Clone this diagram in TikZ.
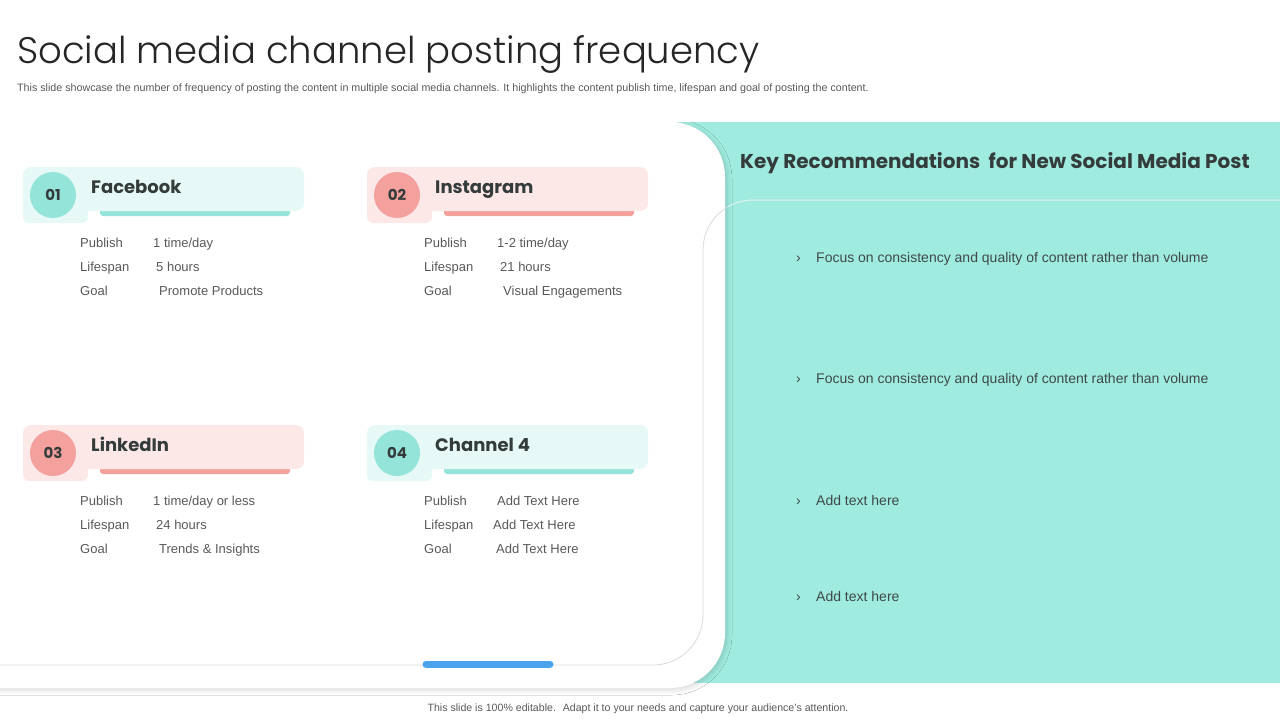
\documentclass[tikz,border=0pt]{standalone}
\usepackage{fontspec}
\setmainfont{Liberation Sans}
\newfontfamily\headfont{Poppins}
\newfontfamily\titlefont{Poppins Light}
\usetikzlibrary{shadows.blur}

\definecolor{panelteal}{HTML}{A0EBDF}
\definecolor{tealpale}{HTML}{E6F9F6}
\definecolor{tealdeep}{HTML}{95E4D9}
\definecolor{pinkpale}{HTML}{FDE8E8}
\definecolor{pinkdeep}{HTML}{F4A19D}
\definecolor{barblue}{HTML}{4BA3EE}
\definecolor{titlegray}{HTML}{262626}
\definecolor{subgray}{HTML}{595959}
\definecolor{headgray}{HTML}{333B3B}
\definecolor{bodygray}{HTML}{595959}
\definecolor{tipgray}{HTML}{3F4848}

\begin{document}
\begin{tikzpicture}[x=1pt,y=-1pt,
  headtext/.style={font=\headfont\bfseries\fontsize{18}{18}\selectfont, text=headgray, anchor=base west, inner sep=0pt},
  rowtext/.style={font=\fontsize{13}{13}\selectfont, text=bodygray, anchor=base west, inner sep=0pt},
  badge/.style={circle, minimum size=46pt, inner sep=0pt, font=\headfont\bfseries\fontsize{15}{15}\selectfont, text=headgray},
  tiptext/.style={font=\fontsize{14}{14}\selectfont, text=tipgray, anchor=base west, inner sep=0pt}]
\useasboundingbox (0,0) rectangle (1280,720);
\fill[white] (0,0) rectangle (1280,720);

%panel and card
\fill[panelteal] (678,122) rectangle (1280,683);
\fill[white, rounded corners=55pt, blur shadow={shadow xshift=2pt, shadow yshift=-2pt, shadow opacity=15, shadow blur radius=5pt, shadow blur steps=8}] (-80,122) rectangle (725,688);
\fill[white] (-5,95) rectangle (740,122);
\draw[gray!30, line width=0.8pt, rounded corners=50pt] (-5,665) -- (703,665) -- (703,200) -- (1285,200);
\begin{scope}
\clip (728,122) rectangle (1280,683);
\draw[white!55!panelteal, line width=1pt, rounded corners=50pt] (-5,665) -- (703,665) -- (703,200) -- (1285,200);
\end{scope}
\draw[barblue, line width=7pt, line cap=round] (426,664) -- (550,664);

%title
\node[anchor=base west, inner sep=0pt, font=\titlefont\fontsize{37}{37}\selectfont, text=titlegray] (title) at (17,63) {Social media channel posting frequency};
\node[anchor=base west, inner sep=0pt, font=\fontsize{10.7}{10.7}\selectfont, text=subgray] (subtitle) at (17,91) {This slide showcase the number of frequency of posting the content in multiple social media channels. It highlights the content publish time, lifespan and goal of posting the content.};

%channels
\foreach \cx/\cy/\num/\channel/\pale/\deep/\pub/\life/\goal/\gx in {
  23/167/01/Facebook/tealpale/tealdeep/{1 time/day}/5 hours/Promote Products/136,
  367/167/02/Instagram/pinkpale/pinkdeep/{1-2 time/day}/21 hours/Visual Engagements/136,
  23/425/03/LinkedIn/pinkpale/pinkdeep/{1 time/day or less}/24 hours/Trends \& Insights/136,
  367/425/04/Channel 4/tealpale/tealdeep/Add Text Here/Add Text Here/Add Text Here/129}
{
  \fill[\deep, rounded corners=3pt] (\cx+77,\cy+36) rectangle (\cx+267,\cy+49);
  \fill[\pale, rounded corners=8pt] (\cx,\cy) rectangle (\cx+281,\cy+44);
  \fill[\pale, rounded corners=6pt] (\cx,\cy+30) rectangle (\cx+65,\cy+56);
  \node[badge, fill=\deep] (badge\num) at (\cx+30,\cy+28) {\num};
  \node[headtext] (name\num) at (\cx+68,\cy+26) {\channel};
  \node[rowtext] (publish\num) at (\cx+57,\cy+80) {Publish};
  \node[rowtext] (lifespan\num) at (\cx+57,\cy+104) {Lifespan};
  \node[rowtext] (goal\num) at (\cx+57,\cy+128) {Goal};
  \node[rowtext] (pubval\num) at (\cx+130,\cy+80) {\pub};
  \node[rowtext] (lifeval\num) at (\cx+\gx-3,\cy+104) {\life};
  \node[rowtext] (goalval\num) at (\cx+\gx,\cy+128) {\goal};
}

%recommendations
\node[anchor=base west, inner sep=0pt, font=\headfont\bfseries\fontsize{20}{20}\selectfont, text=headgray] (keyhead) at (740,168) {Key Recommendations \ for New Social Media Post};
\foreach \ty/\tip in {257/Focus on consistency and quality of content rather than volume,
  378/Focus on consistency and quality of content rather than volume,
  500/Add text here, 596/Add text here}
{
  \node[tiptext] (mark\ty) at (796,\ty+5) {›};
  \node[tiptext] (tip\ty) at (816,\ty+5) {\tip};
}

\node[anchor=base, inner sep=0pt, font=\fontsize{10.6}{10.6}\selectfont, text=subgray] (footer) at (638,711) {This slide is 100\% editable. \ Adapt it to your needs and capture your audience's attention.};
\end{tikzpicture}
\end{document}
